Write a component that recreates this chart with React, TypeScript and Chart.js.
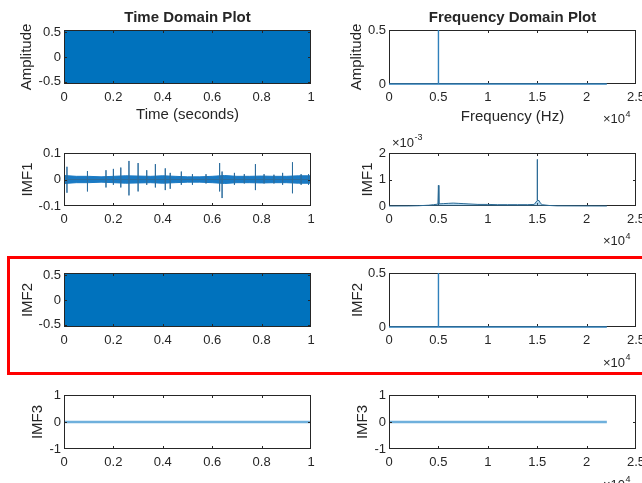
import React, { useEffect, useRef } from 'react';
import { Chart, registerables } from 'chart.js';

Chart.register(...registerables);

// ---------- tick definitions ----------
const timeTicks = [0, 0.2, 0.4, 0.6, 0.8, 1];
const timeTickLabels = ['0', '0.2', '0.4', '0.6', '0.8', '1'];
const freqTicks = [0, 5000, 10000, 15000, 20000, 25000];
const freqTickLabels = ['0', '0.5', '1', '1.5', '2', '2.5'];
const halfAmpTicks = [-0.5, 0, 0.5];
const halfAmpTickLabels = ['-0.5', '0', '0.5'];
const specTicks = [0, 0.5];
const specTickLabels = ['0', '0.5'];
const imf1Ticks = [-0.1, 0, 0.1];
const imf1TickLabels = ['-0.1', '0', '0.1'];
const imf1SpecTicks = [0, 0.001, 0.002];
const imf1SpecTickLabels = ['0', '1', '2'];
const unitTicks = [-1, 0, 1];
const unitTickLabels = ['-1', '0', '1'];

// ---------- signal (dense oscillation, drawn as its envelope) ----------
const signalTime = [0, 1];
const signalUpper = [0.55, 0.55];
const signalLower = [-0.55, -0.55];

// ---------- amplitude spectrum of signal / IMF2 ----------
const spikeHz = [0, 4990, 5000, 5010, 22050];
const spikeAmp = [0, 0.001, 0.5, 0.001, 0];

// ---------- IMF1 time series ----------
const imf1NoiseTime = [0, 0.05, 0.1, 0.15, 0.2, 0.25, 0.3, 0.35, 0.4, 0.45, 0.5, 0.55, 0.6, 0.65, 0.7, 0.75, 0.8, 0.85, 0.9, 0.95, 1];
const imf1NoiseUpper = [0.015, 0.012, 0.012, 0.01, 0.012, 0.014, 0.013, 0.012, 0.014, 0.012, 0.01, 0.01, 0.012, 0.015, 0.012, 0.012, 0.013, 0.012, 0.012, 0.014, 0.014];
const imf1NoiseLower = [-0.015, -0.012, -0.012, -0.01, -0.012, -0.014, -0.013, -0.012, -0.014, -0.012, -0.01, -0.01, -0.012, -0.015, -0.012, -0.012, -0.013, -0.012, -0.012, -0.014, -0.014];
const imf1SpikeTime = [0.012, 0.095, 0.17, 0.2, 0.23, 0.263, 0.3, 0.335, 0.37, 0.41, 0.43, 0.475, 0.52, 0.575, 0.63, 0.64, 0.69, 0.73, 0.775, 0.81, 0.85, 0.885, 0.925, 0.96, 0.99];
const imf1SpikeHigh = [0.048, 0.032, 0.035, 0.04, 0.045, 0.07, 0.062, 0.035, 0.058, 0.042, 0.025, 0.03, 0.02, 0.02, 0.062, 0.03, 0.025, 0.02, 0.058, 0.02, 0.018, 0.025, 0.065, 0.02, 0.02];
const imf1SpikeLow = [-0.05, -0.045, -0.03, -0.02, -0.03, -0.06, -0.045, -0.02, -0.03, -0.04, -0.035, -0.02, -0.02, -0.015, -0.045, -0.07, -0.02, -0.015, -0.04, -0.015, -0.015, -0.02, -0.052, -0.02, -0.02];

// ---------- IMF1 amplitude spectrum ----------
const imf1FreqHz = [0, 2000, 3000, 4000, 4500, 4950, 5000, 5050, 5500, 6000, 6500, 7000, 7500, 8000, 9000, 10000, 11000, 12000, 13000, 14000, 14700, 14880, 14980, 15000, 15030, 15200, 15300, 15500, 16200, 17000, 22050];
const imf1FreqAmp = [0, 0.000002, 0.00001, 0.00003, 0.00005, 0.00007, 0.00078, 0.00008, 0.00009, 0.0001, 0.00011, 0.0001, 0.00009, 0.00008, 0.00006, 0.00006, 0.00005, 0.00005, 0.00005, 0.00005, 0.00006, 0.00015, 0.0002, 0.00176, 0.00022, 0.0002, 0.00012, 0.00005, 0.00002, 0.000005, 0];

// ---------- IMF3 ----------
const imf3Time = [0, 1];
const imf3Value = [0, 0];
const imf3FreqHz = [0, 22050];
const imf3FreqAmp = [0, 0];

const BLUE = '#0072BD';
const TEXT = '#262626';
const FONT = "'Liberation Sans', Arial, Helvetica, sans-serif";

const pts = (xs: number[], ys: number[]) => xs.map((x, i) => ({ x, y: ys[i] }));

function spikePts() {
  const out: { x: number; y: number }[] = [];
  imf1SpikeTime.forEach((t, i) => {
    out.push({ x: t, y: 0 }, { x: t, y: imf1SpikeHigh[i] }, { x: t, y: imf1SpikeLow[i] }, { x: t, y: 0 });
  });
  return out;
}

const bandDatasets = (xs: number[], up: number[], lo: number[], color: string) => [
  { data: pts(xs, up), borderColor: color, backgroundColor: color, borderWidth: 1, fill: '+1', pointRadius: 0 },
  { data: pts(xs, lo), borderColor: color, backgroundColor: color, borderWidth: 1, fill: false, pointRadius: 0 },
];

type Spec = {
  x0: number; y0: number; w: number; h: number;
  box: [number, number, number, number];
  xr: [number, number]; yr: [number, number];
  xt: number[]; xl: string[]; yt: number[]; yl: string[];
  datasets: any[];
  dataOnTop?: boolean;
  title?: string; titleY?: number;
  xlabel?: string; xlabelY?: number;
  ylabel: string; ylabelX: number;
  exp4?: [number, number];
  expM3?: [number, number];
};

const LEFT = { x0: 0, w: 330 };
const RIGHT = { x0: 330, w: 312 };

const specLine = (xs: number[], ys: number[]) => ({
  data: pts(xs, ys), borderColor: '#2f80bb', borderWidth: 1.4, pointRadius: 0, fill: false, clip: 4,
});
const flatLine = (xs: number[], ys: number[]) => ({
  data: pts(xs, ys), borderColor: '#6fb0dc', borderWidth: 2.5, pointRadius: 0, fill: false, clip: 4,
});

const specs: Spec[] = [
  {
    ...LEFT, y0: 0, h: 125, box: [64, 30, 311, 84], xr: [0, 1], yr: [-0.55, 0.55],
    xt: timeTicks, xl: timeTickLabels, yt: halfAmpTicks, yl: halfAmpTickLabels,
    datasets: bandDatasets(signalTime, signalUpper, signalLower, BLUE),
    title: 'Time Domain Plot', titleY: 18, xlabel: 'Time (seconds)', xlabelY: 115,
    ylabel: 'Amplitude', ylabelX: 27,
  },
  {
    ...RIGHT, y0: 0, h: 125, box: [389, 30, 636, 84], xr: [0, 25000], yr: [0, 0.5],
    xt: freqTicks, xl: freqTickLabels, yt: specTicks, yl: specTickLabels,
    datasets: [specLine(spikeHz, spikeAmp)], dataOnTop: true,
    title: 'Frequency Domain Plot', titleY: 18, xlabel: 'Frequency (Hz)', xlabelY: 116.5,
    ylabel: 'Amplitude', ylabelX: 357, exp4: [603, 119.5],
  },
  {
    ...LEFT, y0: 125, h: 125, box: [64, 153, 311, 206], xr: [0, 1], yr: [-0.1, 0.1],
    xt: timeTicks, xl: timeTickLabels, yt: imf1Ticks, yl: imf1TickLabels,
    datasets: [
      { data: spikePts(), borderColor: '#2c6d9e', borderWidth: 1, pointRadius: 0, fill: false },
      ...bandDatasets(imf1NoiseTime, imf1NoiseUpper, imf1NoiseLower, '#1a7ac4'),
    ],
    ylabel: 'IMF1', ylabelX: 27.5,
  },
  {
    ...RIGHT, y0: 125, h: 125, box: [389, 153, 636, 206], xr: [0, 25000], yr: [0, 0.002],
    xt: freqTicks, xl: freqTickLabels, yt: imf1SpecTicks, yl: imf1SpecTickLabels,
    datasets: [{ data: pts(imf1FreqHz, imf1FreqAmp), borderColor: '#2a6a95', backgroundColor: 'rgba(60,150,210,0.4)', borderWidth: 1, pointRadius: 0, fill: 'origin', clip: 4 }],
    dataOnTop: true,
    ylabel: 'IMF1', ylabelX: 367.5, exp4: [603, 241.5], expM3: [392, 143],
  },
  {
    ...LEFT, y0: 250, h: 122, box: [64, 273, 311, 327], xr: [0, 1], yr: [-0.55, 0.55],
    xt: timeTicks, xl: timeTickLabels, yt: halfAmpTicks, yl: halfAmpTickLabels,
    datasets: bandDatasets(signalTime, signalUpper, signalLower, BLUE),
    ylabel: 'IMF2', ylabelX: 27.5,
  },
  {
    ...RIGHT, y0: 250, h: 122, box: [389, 273, 636, 327], xr: [0, 25000], yr: [0, 0.5],
    xt: freqTicks, xl: freqTickLabels, yt: specTicks, yl: specTickLabels,
    datasets: [specLine(spikeHz, spikeAmp)], dataOnTop: true,
    ylabel: 'IMF2', ylabelX: 357.5, exp4: [603, 363],
  },
  {
    ...LEFT, y0: 372, h: 111, box: [64, 395, 311, 449], xr: [0, 1], yr: [-1, 1],
    xt: timeTicks, xl: timeTickLabels, yt: unitTicks, yl: unitTickLabels,
    datasets: [flatLine(imf3Time, imf3Value)],
    ylabel: 'IMF3', ylabelX: 37.5,
  },
  {
    ...RIGHT, y0: 372, h: 111, box: [389, 395, 636, 449], xr: [0, 25000], yr: [-1, 1],
    xt: freqTicks, xl: freqTickLabels, yt: unitTicks, yl: unitTickLabels,
    datasets: [flatLine(imf3FreqHz, imf3FreqAmp)],
    ylabel: 'IMF3', ylabelX: 362.5, exp4: [603, 485],
  },
];

function drawExp(ctx: CanvasRenderingContext2D, x: number, y: number, exp: string) {
  ctx.font = `13px ${FONT}`;
  ctx.textAlign = 'left';
  ctx.textBaseline = 'middle';
  ctx.fillText('\u00d710', x, y);
  const w = ctx.measureText('\u00d710').width;
  ctx.font = `9px ${FONT}`;
  ctx.fillText(exp, x + w + 0.5, y - 5);
}

function drawBox(chart: any, s: Spec) {
  const { ctx, chartArea: a, scales } = chart;
  ctx.save();
  ctx.strokeStyle = TEXT;
  ctx.lineWidth = 1;
  ctx.strokeRect(a.left + 0.5, a.top + 0.5, a.right - a.left - 1, a.bottom - a.top - 1);
  const tl = 3;
  ctx.beginPath();
  s.xt.forEach((v) => {
    const px = Math.round(scales.x.getPixelForValue(v)) + 0.5;
    if (px <= a.left + 1 || px >= a.right - 1) return;
    ctx.moveTo(px, a.bottom); ctx.lineTo(px, a.bottom - tl);
    ctx.moveTo(px, a.top); ctx.lineTo(px, a.top + tl);
  });
  s.yt.forEach((v) => {
    const py = Math.round(scales.y.getPixelForValue(v)) + 0.5;
    if (py <= a.top + 1 || py >= a.bottom - 1) return;
    ctx.moveTo(a.left, py); ctx.lineTo(a.left + tl, py);
    ctx.moveTo(a.right, py); ctx.lineTo(a.right - tl, py);
  });
  ctx.stroke();
  ctx.restore();
}

function drawTexts(chart: any, s: Spec) {
  const { ctx, chartArea: a } = chart;
  ctx.save();
  ctx.fillStyle = TEXT;
  const cx = (a.left + a.right) / 2;
  if (s.title) {
    ctx.font = `bold 15px ${FONT}`;
    ctx.textAlign = 'center';
    ctx.textBaseline = 'middle';
    ctx.fillText(s.title, cx, (s.titleY as number) - s.y0);
  }
  if (s.xlabel) {
    ctx.font = `15px ${FONT}`;
    ctx.textAlign = 'center';
    ctx.textBaseline = 'middle';
    ctx.fillText(s.xlabel, cx, (s.xlabelY as number) - s.y0);
  }
  ctx.save();
  ctx.translate(s.ylabelX - s.x0, (a.top + a.bottom) / 2);
  ctx.rotate(-Math.PI / 2);
  ctx.font = `15px ${FONT}`;
  ctx.textAlign = 'center';
  ctx.textBaseline = 'middle';
  ctx.fillText(s.ylabel, 0, 0);
  ctx.restore();
  if (s.exp4) drawExp(ctx, s.exp4[0] - s.x0, s.exp4[1] - s.y0, '4');
  if (s.expM3) drawExp(ctx, s.expM3[0] - s.x0, s.expM3[1] - s.y0, '-3');
  ctx.restore();
}

function Plot({ s }: { s: Spec }) {
  const ref = useRef<HTMLCanvasElement>(null);
  useEffect(() => {
    const [bl, bt, br, bb] = s.box;
    const L = bl - s.x0;
    const T = bt - s.y0;
    const R = s.x0 + s.w - br;
    const B = s.y0 + s.h - bb;
    const tickFont = { family: FONT, size: 13 };
    const chart = new Chart(ref.current as HTMLCanvasElement, {
      type: 'line',
      data: { datasets: s.datasets },
      options: {
        responsive: false,
        animation: false,
        devicePixelRatio: 1,
        layout: { padding: { top: T, right: R, left: 0, bottom: 0 } },
        plugins: { legend: { display: false }, tooltip: { enabled: false }, title: { display: false } },
        elements: { point: { radius: 0 }, line: { tension: 0 } },
        scales: {
          x: {
            type: 'linear', min: s.xr[0], max: s.xr[1],
            grid: { display: false, drawTicks: false }, border: { display: false },
            afterBuildTicks: (sc: any) => { sc.ticks = s.xt.map((v) => ({ value: v })); },
            afterFit: (sc: any) => { sc.height = B; sc.paddingLeft = 0; sc.paddingRight = 0; },
            ticks: {
              autoSkip: false, maxRotation: 0, minRotation: 0, padding: 6, color: TEXT, font: tickFont,
              callback: (_v: any, i: number) => s.xl[i],
            },
          },
          y: {
            type: 'linear', min: s.yr[0], max: s.yr[1],
            grid: { display: false, drawTicks: false }, border: { display: false },
            afterBuildTicks: (sc: any) => { sc.ticks = s.yt.map((v) => ({ value: v })); },
            afterFit: (sc: any) => { sc.width = L; sc.paddingTop = 0; sc.paddingBottom = 0; },
            ticks: {
              autoSkip: false, padding: 3, color: TEXT, font: tickFont,
              callback: (_v: any, i: number) => s.yl[i],
            },
          },
        },
      } as any,
      plugins: [
        {
          id: 'matlabAxes',
          beforeDatasetsDraw(chart: any) {
            if (s.dataOnTop) drawBox(chart, s);
          },
          afterDraw(chart: any) {
            if (!s.dataOnTop) drawBox(chart, s);
            drawTexts(chart, s);
          },
        },
      ],
    });
    return () => chart.destroy();
  }, []);
  return (
    <canvas
      ref={ref}
      width={s.w}
      height={s.h}
      style={{ position: 'absolute', left: s.x0, top: s.y0, width: s.w, height: s.h }}
    />
  );
}

export default function App() {
  return (
    <div style={{ position: 'absolute', left: 0, top: 0, width: 642, height: 483, overflow: 'hidden', background: '#fff' }}>
      {specs.map((s, i) => (
        <Plot key={i} s={s} />
      ))}
      <div
        style={{
          position: 'absolute', left: 7, top: 256, width: 645, height: 119,
          border: '3px solid #ff0000', boxSizing: 'border-box', pointerEvents: 'none',
        }}
      />
    </div>
  );
}
